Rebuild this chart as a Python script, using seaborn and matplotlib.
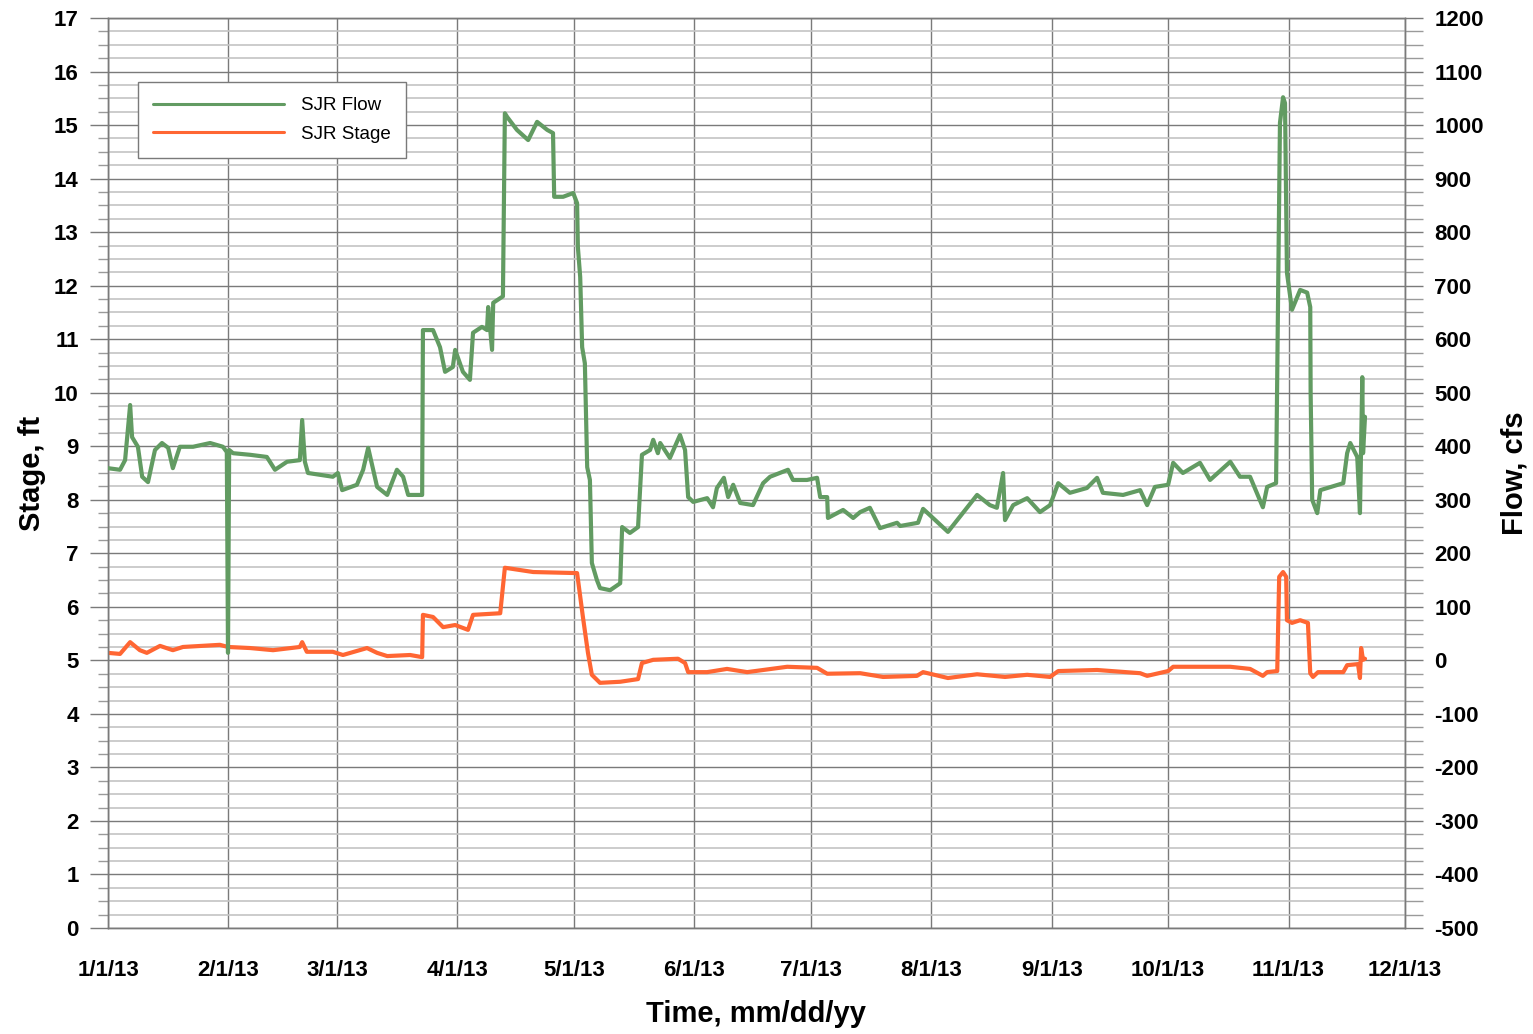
import numpy as np
import pandas as pd
import matplotlib
matplotlib.use("Agg")
import matplotlib.pyplot as plt
import matplotlib.dates as mdates
from matplotlib.ticker import MultipleLocator, FuncFormatter
from matplotlib.lines import Line2D
import seaborn as sns

# ---- data (days since 1/1/13) ----
flow_days = [0.0, 3.1, 4.4, 5.7, 6.2, 7.7, 8.8, 10.3, 12.1, 13.9, 15.5, 16.7, 18.5, 21.9, 26.3, 29.6,
             30.6, 30.9, 31.2, 32.2, 36.6, 40.9, 43.0, 46.1, 49.4, 50.0, 50.7, 51.5, 57.9, 59.2, 60.3,
             64.1, 65.7, 67.0, 69.3, 71.9, 74.4, 76.0, 77.3, 80.9, 81.1, 83.7, 85.5, 86.8, 88.8, 89.4,
             91.4, 93.2, 94.0, 96.3, 97.6, 97.9, 98.9, 99.2, 101.7, 102.2, 102.8, 105.3, 108.2, 110.5,
             113.1, 114.6, 114.9, 117.2, 119.8, 120.8, 121.0, 121.6, 122.1, 122.8, 123.4, 124.1, 124.6,
             125.9, 126.7, 129.3, 131.9, 132.4, 134.4, 136.5, 137.5, 139.6, 140.4, 141.6, 142.2, 144.7,
             147.3, 148.6, 149.4, 150.7, 154.3, 155.8, 156.8, 158.6, 159.7, 161.0, 162.8, 166.1, 168.7,
             170.5, 175.1, 176.4, 180.0, 182.6, 183.4, 185.2, 185.4, 189.3, 191.9, 193.7, 196.2, 198.8,
             203.2, 204.0, 208.6, 209.9, 216.3, 223.8, 227.1, 228.9, 230.5, 231.0, 233.1, 236.7, 240.0,
             242.6, 244.7, 247.7, 252.1, 254.7, 256.2, 261.4, 265.8, 267.6, 269.6, 273.0, 274.3, 276.8,
             281.2, 283.8, 289.0, 291.5, 294.1, 297.4, 298.5, 300.8, 301.8, 302.6, 303.1, 303.4, 303.6,
             304.9, 307.0, 308.8, 309.6, 309.7, 310.1, 311.4, 312.2, 318.1, 319.1, 319.9, 321.7, 322.4,
             323.0, 323.2, 323.7]
flow_cfs = [359, 356, 374, 477, 417, 399, 343, 333, 393, 406, 397, 359, 399, 399, 406, 399,
            389, 14, 393, 387, 384, 380, 356, 371, 374, 449, 371, 350, 343, 350, 318,
            328, 356, 397, 324, 309, 356, 343, 309, 309, 617, 617, 585, 539, 548, 580,
            539, 524, 612, 623, 617, 660, 580, 668, 680, 1022, 1015, 991, 972, 1006,
            991, 985, 866, 866, 873, 854, 772, 716, 585, 555, 361, 337, 182,
            150, 135, 131, 144, 249, 238, 249, 384, 393, 412, 387, 406, 378,
            421, 393, 305, 296, 303, 286, 322, 341, 305, 328, 294, 290, 331,
            343, 356, 337, 337, 341, 305, 305, 266, 281, 266, 277, 285, 247,
            257, 251, 257, 283, 240, 309, 290, 285, 350, 262, 290, 303, 277,
            290, 331, 313, 322, 341, 313, 309, 318, 290, 324, 328, 369, 350,
            369, 337, 371, 343, 343, 286, 324, 331, 1004, 1052, 1041, 841, 724,
            655, 692, 687, 660, 499, 300, 275, 318, 331, 387, 406, 380, 275,
            529, 387, 455]

stage_days = [0.0, 3.1, 5.7, 8.2, 10.0, 13.4, 16.7, 19.3, 28.8, 30.9, 36.6, 42.5, 49.4, 50.0, 51.2,
              57.9, 60.5, 66.7, 69.3, 71.9, 77.8, 80.9, 81.1, 83.7, 86.3, 89.4, 92.7, 94.0, 101.0,
              102.2, 109.5, 120.8, 122.3, 123.6, 124.6, 126.7, 131.9, 136.5, 137.5, 140.4, 146.8,
              148.6, 149.4, 154.3, 159.4, 164.6, 174.9, 182.6, 185.2, 193.7, 199.6, 208.3, 209.9,
              216.3, 223.8, 231.0, 236.7, 242.6, 244.7, 254.7, 265.8, 267.6, 273.0, 274.3, 289.0,
              294.1, 297.4, 298.5, 301.1, 301.6, 302.6, 303.4, 303.6, 304.9, 307.0, 309.0, 309.6,
              310.3, 311.6, 318.1, 319.1, 321.9, 322.4, 322.7, 323.2, 323.7]
stage_ft = [5.14, 5.12, 5.34, 5.19, 5.14, 5.27, 5.19, 5.25, 5.29, 5.25, 5.23, 5.19, 5.25, 5.34, 5.16,
            5.16, 5.10, 5.23, 5.14, 5.08, 5.10, 5.06, 5.85, 5.81, 5.62, 5.66, 5.57, 5.85, 5.88,
            6.73, 6.65, 6.63, 5.81, 5.14, 4.73, 4.58, 4.60, 4.65, 4.95, 5.01, 5.03,
            4.95, 4.78, 4.78, 4.84, 4.78, 4.88, 4.86, 4.75, 4.76, 4.69, 4.71, 4.78,
            4.67, 4.74, 4.69, 4.73, 4.69, 4.80, 4.82, 4.76, 4.71, 4.80, 4.88, 4.88,
            4.84, 4.71, 4.78, 4.80, 6.56, 6.65, 6.56, 5.75, 5.70, 5.75, 5.70, 4.76,
            4.69, 4.78, 4.78, 4.91, 4.93, 4.67, 5.23, 5.01, 5.03]

month_starts = ["2013-01-01", "2013-02-01", "2013-03-01", "2013-04-01", "2013-05-01", "2013-06-01",
                "2013-07-01", "2013-08-01", "2013-09-01", "2013-10-01", "2013-11-01", "2013-12-01"]

t0 = pd.Timestamp("2013-01-01")
flow_df = pd.DataFrame({"Time": t0 + pd.to_timedelta(flow_days, unit="D"), "Flow": flow_cfs})
stage_df = pd.DataFrame({"Time": t0 + pd.to_timedelta(stage_days, unit="D"), "Stage": stage_ft})

sns.set_style("white")
plt.rcParams["font.family"] = ["Liberation Sans", "DejaVu Sans"]
plt.rcParams["axes.unicode_minus"] = False
plt.rcParams["text.color"] = "black"
plt.rcParams["axes.labelcolor"] = "black"
plt.rcParams["xtick.color"] = "black"
plt.rcParams["ytick.color"] = "black"

GREEN = "#629B62"
ORANGE = "#FF6633"
GRID = "#7a7a7a"

fig = plt.figure(figsize=(15.33, 10.34), dpi=100)
ax = fig.add_axes([108 / 1533, 1 - 928 / 1034, 1297 / 1533, 910 / 1034])
ax2 = ax.twinx()

sns.lineplot(data=stage_df, x="Time", y="Stage", ax=ax, color=ORANGE, linewidth=3.0, zorder=3)
sns.lineplot(data=flow_df, x="Time", y="Flow", ax=ax2, color=GREEN, linewidth=3.0, zorder=3)

ax.set_xlim(pd.Timestamp(month_starts[0]), pd.Timestamp(month_starts[-1]))
ax.set_ylim(0, 17)
ax2.set_ylim(-500, 1200)

# x ticks
major = [mdates.date2num(pd.Timestamp(m)) for m in month_starts]
ax.set_xticks(major)
ax.xaxis.set_major_formatter(FuncFormatter(
    lambda v, p: (lambda d: f"{d.month}/{d.day}/{d.strftime('%y')}")(mdates.num2date(v))))
minor = []
for m in month_starts[:-1]:
    for dd in (8, 16, 24):
        minor.append(mdates.date2num(pd.Timestamp(m) + pd.Timedelta(days=dd - 1)))
ax.set_xticks(minor, minor=True)

ax.yaxis.set_major_locator(MultipleLocator(1))
ax.yaxis.set_minor_locator(MultipleLocator(0.25))
ax2.yaxis.set_major_locator(MultipleLocator(100))
ax2.yaxis.set_minor_locator(MultipleLocator(25))

ax.grid(True, which="major", axis="both", color=GRID, linewidth=1.0, zorder=0)
ax.grid(True, which="minor", axis="y", color="#c4c4c4", linewidth=1.2, zorder=0)
ax.set_axisbelow(True)

for a in (ax, ax2):
    a.tick_params(axis="both", which="major", direction="out", length=13, width=1, color=GRID,
                  labelsize=16, pad=8, labelcolor="black")
    a.tick_params(axis="both", which="minor", direction="out", length=7, width=1, color="#9a9a9a")
    for lab in a.get_xticklabels() + a.get_yticklabels():
        lab.set_fontweight("bold")
    for s in a.spines.values():
        s.set_color(GRID)
        s.set_linewidth(1.0)
ax2.tick_params(axis="y", which="minor", length=13)
ax.tick_params(axis="x", which="major", pad=10)

ax.set_xlabel("Time, mm/dd/yy", fontsize=21, fontweight="bold", labelpad=14, color="black")
ax.set_ylabel("Stage, ft", fontsize=21, fontweight="bold", labelpad=6, color="black")
ax2.set_ylabel("Flow, cfs", fontsize=21, fontweight="bold", labelpad=12, color="black")

handles = [Line2D([], [], color=GREEN, linewidth=2.2), Line2D([], [], color=ORANGE, linewidth=2.2)]
leg = ax2.legend(handles, ["SJR Flow", "SJR Stage"], loc="upper left",
                 bbox_to_anchor=(30 / 1297, 1 - 64 / 910), fontsize=13.5, handlelength=7.0,
                 handletextpad=0.9, borderpad=0.8, labelspacing=0.6, fancybox=False,
                 framealpha=1, edgecolor=GRID, borderaxespad=0)
leg.get_frame().set_linewidth(1.0)
for t in leg.get_texts():
    t.set_color("black")

fig.savefig("out.png", dpi=100)
